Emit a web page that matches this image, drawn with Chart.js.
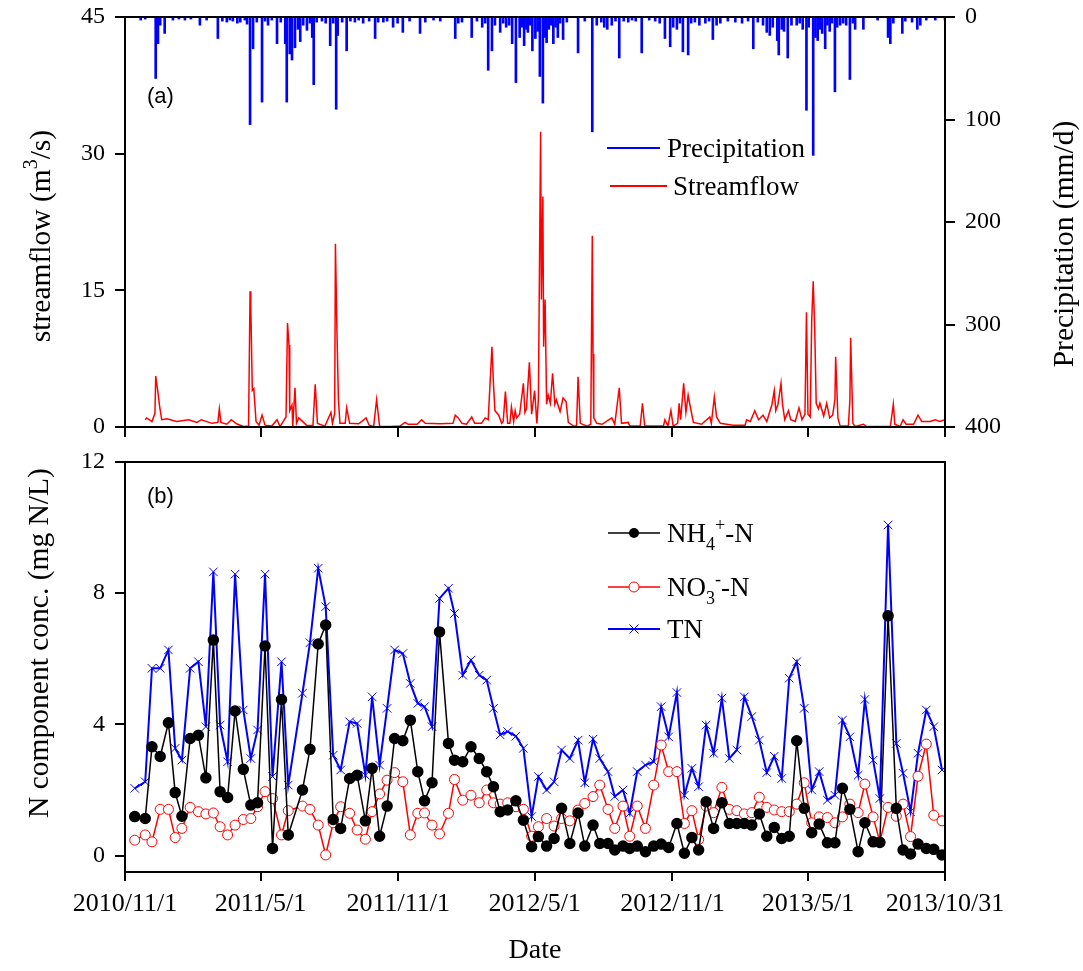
<!DOCTYPE html>
<html>
<head>
<meta charset="utf-8">
<title>Streamflow, precipitation and N components</title>
<script src="https://cdn.jsdelivr.net/npm/chart.js@4.4.1/dist/chart.umd.min.js"></script>
<style>
  html, body { margin: 0; padding: 0; background: #fff; }
  #wrap { position: relative; width: 1083px; height: 971px; overflow: hidden; background: #fff; }
  .panel { position: absolute; left: 0; }
</style>
</head>
<body>
<div id="wrap">
  <div class="panel" style="top:0"><canvas id="flowChart" width="1083" height="450"></canvas></div>
  <div class="panel" style="top:450px"><canvas id="nChart" width="1083" height="521"></canvas></div>
</div>
<script>
// ---- time axis: days counted from 2010/11/1 ----
const dateTickDays = [0, 181, 365, 547, 731, 912, 1095];
const dateTickLabels = ['2010/11/1', '2011/5/1', '2011/11/1', '2012/5/1', '2012/11/1', '2013/5/1', '2013/10/31'];

// ---- panel (a): daily streamflow, [day, m3/s] ----
const streamflow = [
  [27,0.8],[29,1.0],[36,0.6],[40,1.5],[41,5.6],[44,3.8],[46,2.4],[49,0.8],[56,0.9],[69,0.6],[85,0.8],[96,0.5],
  [102,0.8],[116,0.4],[124,0.5],[126,2.0],[128,0.5],[136,0.3],[142,0.8],[149,0.35],[158,0.05],[165,0.1],
  [167,14.9],[168,13],[170,4.0],[172,4.2],[175,0.6],[179,0.2],[183,1.3],[187,0.2],[196,0.1],[203,0.8],[207,0.05],
  [215,1.1],[217,11.4],[219,9.0],[220,1.8],[223,2.4],[224,0.1],[227,4.3],[229,0.4],[232,1.0],[243,0.15],[251,0.2],
  [254,4.7],[257,0.4],[267,0.1],[275,1.6],[277,0.4],[280,1.5],[281,20.1],[283,10.6],[285,3.0],[287,0.4],[294,0.4],
  [296,2.1],[300,0.4],[312,0.35],[322,1.0],[326,0.2],[332,0.05],[336,3.0],[340,0.05],[354,0.05],[367,0.1],[374,0.5],
  [378,0.3],[390,0.3],[396,0.8],[401,0.4],[421,0.35],[438,0.4],[441,1.3],[445,1.0],[450,0.4],[456,0.3],[463,1.1],
  [467,0.4],[476,0.4],[481,1.0],[485,0.8],[487,4.0],[490,8.8],[492,4.8],[494,1.8],[499,1.3],[503,0.4],[505,0.6],
  [508,3.9],[511,0.4],[514,0.4],[516,2.2],[519,0.6],[521,1.8],[523,1.0],[527,1.4],[532,4.8],[534,1.6],[536,2.0],
  [540,7.1],[543,1.4],[547,4.0],[550,0.4],[552,3.0],[555,32.4],[556,14],[558,25.3],[559,8.8],[561,14],[563,2.5],
  [565,3.5],[568,2.6],[571,5.9],[574,2.5],[576,3.0],[581,1.7],[585,3.2],[589,2.8],[592,0.5],[599,0.1],[603,0.1],
  [605,5.5],[608,0.4],[617,0.1],[622,0.3],[624,21.0],[625,8],[626,1.0],[630,0.4],[637,0.3],[650,1.0],[654,0.3],
  [660,4.3],[663,0.4],[672,0.5],[674,0.1],[688,0.1],[691,2.6],[694,0.1],[719,0.1],[721,0.8],[725,0.1],[729,1.8],
  [732,0.1],[738,0.4],[740,2.6],[742,0.8],[746,4.8],[749,1.6],[752,3.5],[754,2.6],[759,0.5],[770,0.3],[781,1.1],
  [783,0.4],[787,3.3],[790,1.1],[795,0.4],[812,0.2],[828,0.2],[830,0.8],[835,0.6],[841,1.8],[846,0.8],[852,1.3],
  [857,0.6],[864,2.5],[867,4.0],[869,1.8],[872,2.5],[876,4.8],[878,2.5],[881,0.8],[886,1.8],[889,0.8],[895,0.6],
  [900,2.1],[904,0.8],[908,1.4],[910,12.6],[912,1.4],[915,1.1],[917,11.7],[919,16.0],[921,10.9],[923,2.6],[926,2.0],
  [928,2.6],[933,1.2],[937,2.6],[941,1.0],[945,1.3],[948,3],[949,7.7],[952,1.0],[955,0.1],[966,0.1],[968,3],[969,9.8],
  [972,0.4],[975,0.05],[986,0.3],[990,0.05],[1022,0.05],[1026,2.5],[1028,0.3],[1035,0.05],[1039,0.8],[1043,0.3],
  [1053,0.3],[1059,1.3],[1064,0.6],[1075,0.6],[1082,0.8],[1088,0.6],[1095,0.8]
];

// ---- panel (a): daily precipitation on rain days, [day, mm/d] ----
const precipitation = [
  [21,3],[27,2],[41,60],[44,26],[47,8],[53,16],[64,3],[72,2],[80,3],[88,2],[100,8],[109,3],[124,21],[130,4],[136,5],
  [140,3],[144,4],[150,6],[154,5],[160,3],[163,7],[167,105],[171,31],[176,5],[183,83],[187,4],[191,8],[196,3],[203,26],
  [208,5],[214,26],[216,83],[220,36],[223,42],[227,30],[231,12],[234,24],[238,8],[243,13],[247,6],[250,20],[252,66],
  [256,5],[263,4],[268,6],[274,28],[278,6],[282,90],[284,18],[290,5],[296,33],[301,4],[307,5],[312,3],[318,6],[326,4],
  [334,21],[338,5],[345,5],[350,4],[358,10],[364,6],[371,15],[380,4],[394,16],[401,5],[412,3],[421,4],[441,21],[445,6],
  [450,5],[463,20],[470,4],[477,10],[481,6],[485,52],[490,33],[494,8],[501,15],[505,6],[509,10],[513,8],[517,26],
  [522,64],[527,20],[530,10],[533,28],[536,12],[538,15],[541,8],[544,33],[548,21],[551,14],[554,58],[558,84],[561,20],
  [563,25],[566,12],[569,8],[572,26],[575,10],[578,20],[581,6],[585,22],[590,5],[605,35],[614,4],[624,112],[630,8],
  [636,5],[640,10],[644,12],[650,8],[655,4],[660,40],[666,4],[672,5],[677,3],[682,4],[690,35],[700,3],[708,4],[714,6],
  [721,21],[728,29],[732,10],[737,12],[741,6],[745,34],[752,37],[756,6],[761,5],[767,8],[775,6],[780,4],[785,22],
  [790,8],[795,6],[805,4],[815,5],[824,6],[832,4],[839,31],[845,5],[852,8],[857,15],[861,18],[865,10],[871,23],[873,37],
  [877,12],[880,14],[885,40],[890,8],[897,8],[901,6],[905,12],[910,91],[913,10],[919,135],[922,20],[925,23],[928,12],
  [931,16],[935,31],[938,8],[941,14],[944,6],[948,73],[951,10],[955,8],[959,6],[963,8],[968,61],[972,6],[975,12],
  [986,12],[1005,3],[1019,20],[1022,26],[1026,6],[1038,16],[1042,4],[1051,5],[1058,12],[1062,8],[1070,3],[1082,3],[1095,3]
];

// ---- panel (b): sampling days and N concentrations (mg N/L) ----
const sampleDay = [13,27,36,47,58,67,76,87,98,108,118,127,137,147,158,168,177,187,197,209,218,237,247,258,268,278,288,300,
  310,321,330,340,350,360,371,381,391,400,410,420,432,440,451,462,473,483,492,501,511,522,532,543,552,563,573,583,594,605,
  614,625,634,645,654,665,674,684,695,706,716,726,737,747,757,766,776,786,797,807,817,827,837,847,857,867,877,887,897,907,
  917,927,938,948,958,968,979,988,999,1008,1019,1030,1039,1049,1059,1070,1080,1091];

const nh4 = [1.19,1.13,3.32,3.02,4.05,1.92,1.20,3.57,3.67,2.37, 6.57,1.95,1.77,4.41,2.63,1.54,1.61,6.39,0.22,4.76,
  0.63,2.00,3.24,6.45,7.03,1.10,0.83,2.35,2.45,1.06, 2.66,0.59,1.51,3.57,3.50,4.13,2.56,1.67,2.22,6.82,
  3.42,2.91,2.86,3.32,2.96,2.56,2.10,1.34,1.39,1.67, 1.08,0.27,0.58,0.29,0.52,1.44,0.37,1.30,0.29,0.93,
  0.37,0.37,0.17,0.29,0.22,0.29,0.12,0.29,0.35,0.25, 0.98,0.07,0.55,0.17,1.64,0.83,1.61,0.98,0.98,0.98,
  0.93,1.27,0.59,0.86,0.52,0.59,3.50,1.44,0.70,0.96, 0.39,0.39,2.05,1.41,0.12,1.00,0.42,0.40,7.31,1.44,
  0.17,0.05,0.35,0.22,0.19,0.02];

const no3 = [0.47,0.63,0.42,1.41,1.41,0.55,0.83,1.47,1.34,1.27, 1.30,0.88,0.63,0.93,1.10,1.13,1.49,1.95,1.74,0.63,
  1.37,1.51,1.41,0.93,0.02,1.00,1.49,1.29,0.78,0.50, 1.34,1.88,2.30,2.53,2.25,0.63,1.29,1.30,0.93,0.66,
  1.29,2.32,1.69,1.84,1.61,2.00,1.61,1.57,1.61,1.49, 1.41,0.59,0.88,1.13,0.90,1.13,1.06,1.39,1.59,1.80,
  2.15,1.41,0.83,1.51,0.59,1.51,0.83,2.15,3.37,2.56, 2.56,0.98,1.37,0.49,1.51,1.31,2.08,1.41,1.37,1.27,
  1.31,1.78,1.47,1.39,1.34,1.34,1.57,2.22,1.00,1.18, 1.16,1.00,1.18,1.57,1.31,2.18,1.18,0.42,1.47,1.20,
  1.57,0.58,2.42,3.40,1.23,1.06];

const tn = [2.05,2.25,5.71,5.71,6.27,3.27,2.91,5.71,5.91,3.93, 8.65,3.98,2.86,8.58,4.44,2.96,3.83,8.58,2.41,5.91,
  2.15,4.95,6.49,8.76,7.59,3.06,2.61,4.08,4.03,2.45, 4.84,2.76,4.49,6.27,6.16,5.25,4.64,4.54,3.93,7.84,
  8.15,7.38,5.50,5.96,5.50,5.35,4.49,3.68,3.78,3.64, 3.27,1.19,2.41,2.00,2.25,3.22,2.96,3.52,2.22,3.55,
  2.96,2.56,1.80,2.00,1.29,2.56,2.76,2.86,4.54,3.62, 4.97,1.84,2.66,2.10,3.98,3.12,4.80,2.96,3.22,4.84,
  4.24,3.52,2.53,3.03,2.35,5.41,5.91,4.49,2.00,2.56, 1.69,1.84,4.13,3.62,2.45,4.76,2.91,1.74,10.08,3.42,
  2.51,1.34,3.12,4.44,3.93,2.61];

// ---- y-axis tick values ----
const flowTicks = [0, 15, 30, 45];
const rainTicks = [0, 100, 200, 300, 400];
const concTicks = [0, 4, 8, 12];

// ---- shared styling ----
const SERIF = "'Liberation Serif', 'Times New Roman', serif";
const SANS = "'Liberation Sans', Arial, sans-serif";
const BLUE = '#0000ff';
const RED = '#ff0000';

const fixedTicks = values => scale => { scale.ticks = values.map(v => ({ value: v })); };
const axisGrid = len => ({ drawOnChartArea: false, drawTicks: true, tickLength: len, color: '#000', lineWidth: 2, offset: false });
const toXY = pairs => pairs.map(([d, v]) => ({ x: d, y: v }));
const sampled = vals => vals.map((v, i) => ({ x: sampleDay[i], y: v }));

// fixed axis box sizes; label overhang is absorbed by the layout padding
const fitWidth = w => s => { s.width = w; s.paddingTop = 0; s.paddingBottom = 0; s.paddingLeft = 0; s.paddingRight = 0; };
const fitHeight = h => s => { s.height = h; s.paddingTop = 0; s.paddingBottom = 0; s.paddingLeft = 0; s.paddingRight = 0; };

// text runs with super/subscripts: [[text, ''|'sup'|'sub'], ...]
function drawRuns(ctx, runs, x, baseY, size, align) {
  const small = Math.round(size * 0.68);
  const fontOf = k => `${k ? small : size}px ${SERIF}`;
  let total = 0;
  runs.forEach(([t, k]) => { ctx.font = fontOf(k); total += ctx.measureText(t).width; });
  let cx = align === 'center' ? x - total / 2 : x;
  ctx.textAlign = 'left';
  ctx.textBaseline = 'alphabetic';
  runs.forEach(([t, k]) => {
    ctx.font = fontOf(k);
    const dy = k === 'sup' ? -size * 0.42 : (k === 'sub' ? size * 0.28 : 0);
    ctx.fillText(t, cx, baseY + dy);
    cx += ctx.measureText(t).width;
  });
}

function verticalTitle(ctx, runs, cx, cy, size) {
  ctx.save();
  ctx.translate(cx, cy);
  ctx.rotate(-Math.PI / 2);
  drawRuns(ctx, runs, 0, size * 0.33, size, 'center');
  ctx.restore();
}

const framePlugin = {
  id: 'frame',
  afterDraw(chart) {
    const { ctx, chartArea: a } = chart;
    ctx.save();
    ctx.strokeStyle = '#000';
    ctx.lineWidth = 2;
    ctx.strokeRect(a.left, a.top, a.right - a.left, a.bottom - a.top);
    ctx.restore();
  }
};

// ---------------- panel (a) ----------------
const flowDecor = {
  id: 'flowDecor',
  afterDraw(chart) {
    const ctx = chart.ctx;
    ctx.save();
    ctx.fillStyle = '#000';
    ctx.font = `22px ${SANS}`;
    ctx.textBaseline = 'middle';
    ctx.textAlign = 'left';
    ctx.fillText('(a)', 147, 97);

    // legend
    ctx.lineWidth = 2;
    ctx.strokeStyle = BLUE;
    ctx.beginPath(); ctx.moveTo(607, 148); ctx.lineTo(660, 148); ctx.stroke();
    ctx.strokeStyle = RED;
    ctx.beginPath(); ctx.moveTo(610, 186); ctx.lineTo(667, 186); ctx.stroke();
    ctx.fillStyle = '#000';
    drawRuns(ctx, [['Precipitation', '']], 667, 157, 27, 'left');
    drawRuns(ctx, [['Streamflow', '']], 673, 195, 27, 'left');

    // axis titles
    verticalTitle(ctx, [['streamflow (m', ''], ['3', 'sup'], ['/s)', '']], 40, 236, 29.5);
    verticalTitle(ctx, [['Precipitation (mm/d)', '']], 1063, 244, 29.5);
    ctx.restore();
  }
};

new Chart(document.getElementById('flowChart'), {
  type: 'line',
  data: {
    datasets: [
      {
        label: 'Streamflow',
        data: toXY(streamflow),
        yAxisID: 'y',
        borderColor: RED,
        borderWidth: 1.5,
        pointRadius: 0,
        tension: 0
      },
      {
        type: 'bar',
        label: 'Precipitation',
        data: toXY(precipitation),
        yAxisID: 'y2',
        backgroundColor: BLUE,
        borderWidth: 0,
        barThickness: 2
      }
    ]
  },
  options: {
    responsive: false,
    animation: false,
    events: [],
    layout: { padding: { top: 17, left: 0, right: 0, bottom: 0 } },
    plugins: { legend: { display: false }, tooltip: { enabled: false } },
    scales: {
      x: {
        type: 'linear', min: 0, max: 1095, offset: false,
        afterBuildTicks: fixedTicks(dateTickDays),
        ticks: { display: false },
        grid: axisGrid(10),
        border: { display: false },
        afterFit: fitHeight(450 - 427)
      },
      y: {
        position: 'left', min: 0, max: 45,
        afterBuildTicks: fixedTicks(flowTicks),
        ticks: { color: '#000', font: { family: SERIF, size: 24 }, padding: 10 },
        grid: axisGrid(10),
        border: { display: false },
        afterFit: fitWidth(125)
      },
      y2: {
        position: 'right', min: 0, max: 400, reverse: true,
        afterBuildTicks: fixedTicks(rainTicks),
        ticks: { color: '#000', font: { family: SERIF, size: 24 }, padding: 10 },
        grid: axisGrid(10),
        border: { display: false },
        afterFit: fitWidth(1083 - 945)
      }
    }
  },
  plugins: [framePlugin, flowDecor]
});

// ---------------- panel (b) ----------------
const nDecor = {
  id: 'nDecor',
  afterDraw(chart) {
    const ctx = chart.ctx;
    ctx.save();
    ctx.fillStyle = '#000';
    ctx.font = `22px ${SANS}`;
    ctx.textBaseline = 'middle';
    ctx.textAlign = 'left';
    ctx.fillText('(b)', 147, 47);

    // legend rows
    const rows = [
      { y: 83, color: '#000', marker: 'dot', runs: [['NH', ''], ['4', 'sub'], ['+', 'sup'], ['-N', '']] },
      { y: 137, color: RED, marker: 'ring', runs: [['NO', ''], ['3', 'sub'], ['-', 'sup'], ['-N', '']] },
      { y: 179, color: BLUE, marker: 'cross', runs: [['TN', '']] }
    ];
    rows.forEach(r => {
      ctx.strokeStyle = r.color;
      ctx.lineWidth = r.marker === 'cross' ? 2 : 1.5;
      ctx.beginPath(); ctx.moveTo(608, r.y); ctx.lineTo(660, r.y); ctx.stroke();
      const mx = 634;
      if (r.marker === 'dot') {
        ctx.fillStyle = '#000';
        ctx.beginPath(); ctx.arc(mx, r.y, 5, 0, Math.PI * 2); ctx.fill();
      } else if (r.marker === 'ring') {
        ctx.fillStyle = '#fff';
        ctx.lineWidth = 1;
        ctx.beginPath(); ctx.arc(mx, r.y, 5, 0, Math.PI * 2); ctx.fill(); ctx.stroke();
      } else {
        ctx.lineWidth = 1;
        ctx.beginPath();
        ctx.moveTo(mx - 4.5, r.y - 4.5); ctx.lineTo(mx + 4.5, r.y + 4.5);
        ctx.moveTo(mx - 4.5, r.y + 4.5); ctx.lineTo(mx + 4.5, r.y - 4.5);
        ctx.stroke();
      }
      ctx.fillStyle = '#000';
      drawRuns(ctx, r.runs, 667, r.y + 9, 27, 'left');
    });

    verticalTitle(ctx, [['N component conc. (mg N/L)', '']], 38, 193, 29.5);
    drawRuns(ctx, [['Date', '']], 535, 508, 28, 'center');
    ctx.restore();
  }
};

new Chart(document.getElementById('nChart'), {
  type: 'line',
  data: {
    datasets: [
      {
        label: 'NH4+-N',
        data: sampled(nh4),
        borderColor: '#000',
        borderWidth: 1.5,
        pointRadius: 5,
        pointBackgroundColor: '#000',
        pointBorderColor: '#000',
        tension: 0
      },
      {
        label: 'NO3--N',
        data: sampled(no3),
        borderColor: RED,
        borderWidth: 1.5,
        pointRadius: 5,
        pointBackgroundColor: '#fff',
        pointBorderColor: RED,
        pointBorderWidth: 1,
        tension: 0
      },
      {
        label: 'TN',
        data: sampled(tn),
        borderColor: BLUE,
        borderWidth: 2,
        pointStyle: 'crossRot',
        pointRadius: 6,
        pointBorderColor: BLUE,
        pointBorderWidth: 1,
        tension: 0
      }
    ]
  },
  options: {
    responsive: false,
    animation: false,
    events: [],
    layout: { padding: { top: 12, left: 0, right: 1083 - 945, bottom: 0 } },
    plugins: { legend: { display: false }, tooltip: { enabled: false } },
    scales: {
      x: {
        type: 'linear', min: 0, max: 1095, offset: false,
        afterBuildTicks: fixedTicks(dateTickDays),
        ticks: {
          color: '#000', font: { family: SERIF, size: 26 }, padding: 8,
          autoSkip: false, maxRotation: 0, minRotation: 0,
          callback: (v, i) => dateTickLabels[i]
        },
        grid: axisGrid(9),
        border: { display: false },
        afterFit: fitHeight(521 - 422)
      },
      y: {
        position: 'left', min: -0.5, max: 12,
        afterBuildTicks: fixedTicks(concTicks),
        ticks: { color: '#000', font: { family: SERIF, size: 24 }, padding: 10 },
        grid: axisGrid(10),
        border: { display: false },
        afterFit: fitWidth(125)
      }
    }
  },
  plugins: [framePlugin, nDecor]
});
</script>
</body>
</html>
